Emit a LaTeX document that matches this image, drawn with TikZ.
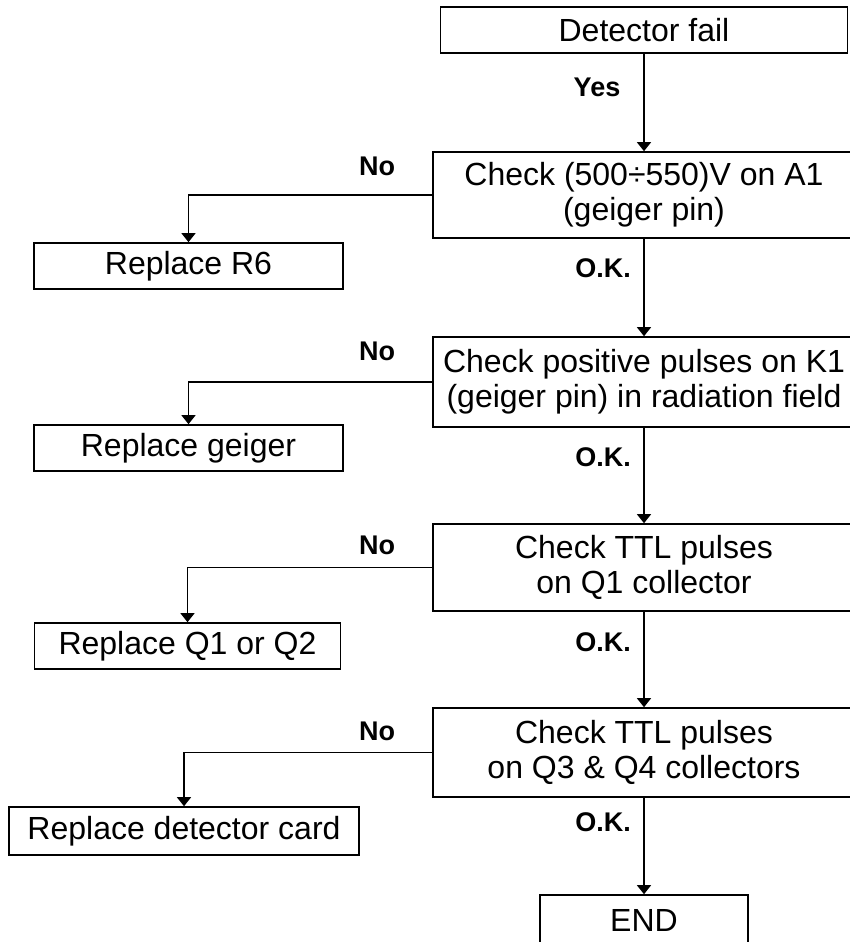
\documentclass[tikz,border=0pt]{standalone}
\usepackage{fontspec}
\setmainfont{Liberation Sans}
\usetikzlibrary{arrows.meta}
\tikzset{
	stepbox/.style={draw, line width=1.6pt, inner sep=0pt, align=center, font=\fontsize{32}{35}\selectfont},
	answer/.style={inner sep=0pt, font=\fontsize{27}{30}\selectfont\bfseries},
	flow/.style={line width=1.3pt, -{Triangle[length=9pt,width=14pt]}},
}
\begin{document}
\begin{tikzpicture}[x=1pt,y=1pt,yscale=-1]
	\useasboundingbox (0,0) rectangle (849,942);
	% main column
	\node[stepbox, minimum width=407pt, minimum height=46pt] (fail) at (644,30) {Detector fail};
	\node[stepbox, minimum width=422pt, minimum height=86pt] (chkA) at (644,195) {Check (500÷550)V on A1\\(geiger pin)};
	\node[stepbox, minimum width=422pt, minimum height=90pt] (chkB) at (644,382) {Check positive pulses on K1\\(geiger pin) in radiation field};
	\node[stepbox, minimum width=422pt, minimum height=87pt] (chkC) at (644,567.5) {Check TTL pulses\\on Q1 collector};
	\node[stepbox, minimum width=422pt, minimum height=89pt] (chkD) at (644,752.5) {Check TTL pulses\\on Q3 \& Q4 collectors};
	\node[stepbox, minimum width=208pt, minimum height=50pt] (stop) at (644,920) {END};
	% replace column
	\node[stepbox, minimum width=309pt, minimum height=46pt] (repA) at (188.5,266) {Replace R6};
	\node[stepbox, minimum width=309pt, minimum height=46pt] (repB) at (188.5,448) {Replace geiger};
	\node[stepbox, minimum width=306pt, minimum height=46pt] (repC) at (187.5,646) {Replace Q1 or Q2};
	\node[stepbox, minimum width=350pt, minimum height=48pt] (repD) at (184,831) {Replace detector card};
	% answers
	\node[answer] (yes) at (597,87) {Yes};
	\node[answer] (okA) at (603,268) {O.K.};
	\node[answer] (okB) at (603,457) {O.K.};
	\node[answer] (okC) at (603,642) {O.K.};
	\node[answer] (okD) at (603,822) {O.K.};
	\node[answer] (noA) at (377,166) {No};
	\node[answer] (noB) at (377,351) {No};
	\node[answer] (noC) at (377,545) {No};
	\node[answer] (noD) at (377,731) {No};
	% connectors
	\draw[flow] (fail) -- (chkA);
	\draw[flow] (chkA) -- (chkB);
	\draw[flow] (chkB) -- (chkC);
	\draw[flow] (chkC) -- (chkD);
	\draw[flow] (chkD) -- (stop);
	\draw[flow] (chkA.west) -| (repA.north);
	\draw[flow] (chkB.west) -| (repB.north);
	\draw[flow] (chkC.west) -| (repC.north);
	\draw[flow] (chkD.west) -| (repD.north);
\end{tikzpicture}
\end{document}
